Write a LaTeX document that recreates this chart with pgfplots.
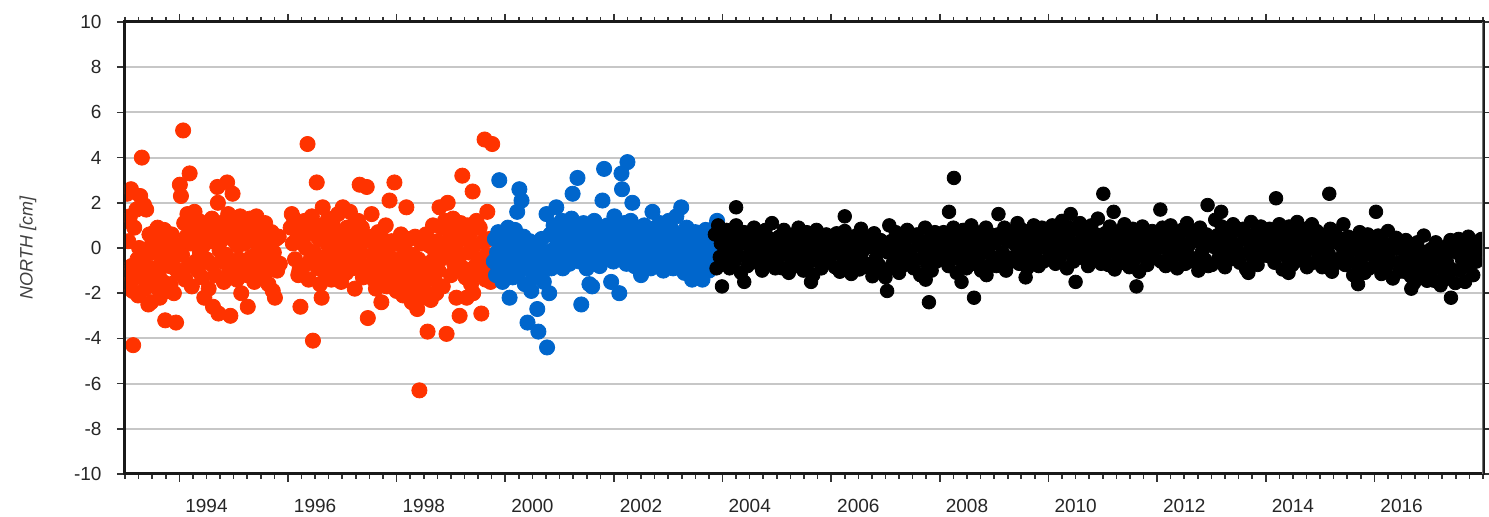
\documentclass[border=0pt]{standalone}
\usepackage{fontspec}
\setmainfont{Liberation Sans}
\usepackage{pgfplots}
\pgfplotsset{compat=1.18}
\definecolor{redpt}{RGB}{255,51,0}
\definecolor{bluept}{RGB}{0,102,204}
\begin{document}
\begin{tikzpicture}
\begin{axis}[
  scale only axis, width=679pt, height=226pt,
  xmin=1993, xmax=2018, ymin=-10, ymax=10,
  xtick={1994,1996,...,2016},
  minor xtick={1993,1993.25,...,2018},
  ytick={-10,-8,...,10},
  /pgf/number format/assume math mode=true,
  /pgf/number format/1000 sep={},
  tick align=outside,
  major tick length=4pt, minor tick length=2.5pt,
  every tick/.style={line width=0.8pt, black!80},
  ymajorgrids,
  grid style={line width=1pt, black!22},
  axis line style={line width=1.5pt, black!90},
  tick label style={font=\fontsize{9.5}{11}\selectfont, text=black!85},
  xticklabel style={xshift=13.58pt, yshift=-5.2pt},
  yticklabel style={xshift=-4.2pt},
  ylabel={NORTH [cm]},
  every axis y label/.style={at={(axis description cs:-0.0714,0.5)}, rotate=90, anchor=center, font=\itshape\fontsize{9}{11}\selectfont, text=black!75},
  clip marker paths=true,
]
\addplot[only marks, mark=*, mark size=3.8pt, color=redpt] table[row sep=\\] {
x y\\
1993.01 1.2\\ 1993.03 -1.1\\ 1993.04 2.4\\ 1993.06 0.3\\ 1993.07 -1.6\\ 1993.09 1.4\\ 1993.11 2.6\\ 1993.12 -0.8\\ 1993.14 -1.9\\ 1993.15 -4.3\\ 1993.17 0.9\\ 1993.19 -1.3\\ 1993.21 1.7\\ 1993.23 -0.5\\ 1993.24 -2.1\\
1993.26 0.0\\ 1993.28 2.3\\ 1993.29 -1.2\\ 1993.31 4.0\\ 1993.33 -0.7\\ 1993.35 1.9\\ 1993.37 -1.8\\ 1993.39 1.7\\ 1993.41 -0.3\\ 1993.43 -2.5\\ 1993.45 0.6\\ 1993.47 -1.4\\ 1993.48 -2.4\\ 1993.50 0.2\\
1993.52 -0.9\\ 1993.54 0.7\\ 1993.56 -1.7\\ 1993.58 -0.2\\ 1993.60 0.9\\ 1993.62 -1.2\\ 1993.64 -2.2\\ 1993.66 0.4\\ 1993.68 -0.6\\ 1993.70 -1.5\\ 1993.72 0.8\\ 1993.74 -3.2\\ 1993.76 -0.1\\
1993.78 -1.9\\ 1993.80 0.3\\ 1993.82 -0.8\\ 1993.84 -1.6\\ 1993.86 0.6\\ 1993.88 -0.4\\ 1993.90 -2.0\\ 1993.92 -0.9\\ 1993.94 -3.3\\ 1993.96 0.1\\ 1993.98 -1.1\\
1994.01 2.8\\ 1994.03 2.3\\ 1994.05 -0.3\\ 1994.07 5.2\\ 1994.09 1.1\\ 1994.11 -1.4\\ 1994.13 0.5\\ 1994.15 1.5\\ 1994.17 -0.8\\ 1994.19 3.3\\ 1994.21 0.2\\ 1994.23 -1.7\\
1994.26 0.9\\ 1994.28 1.6\\ 1994.30 -0.6\\ 1994.32 0.4\\ 1994.34 -1.0\\ 1994.36 1.2\\ 1994.38 -0.2\\ 1994.40 0.7\\ 1994.42 -1.3\\ 1994.44 0.1\\ 1994.46 -2.2\\ 1994.48 0.6\\
1994.50 -0.5\\ 1994.52 1.0\\ 1994.54 -1.8\\ 1994.56 0.3\\ 1994.58 -0.7\\ 1994.60 1.3\\ 1994.62 -2.6\\ 1994.64 0.5\\ 1994.66 -1.2\\ 1994.68 0.9\\ 1994.70 2.7\\ 1994.71 2.0\\ 1994.72 -2.9\\ 1994.74 -0.1\\
1994.76 1.1\\ 1994.78 -0.6\\ 1994.80 0.4\\ 1994.82 -1.5\\ 1994.84 0.8\\ 1994.86 -0.3\\ 1994.88 2.9\\ 1994.90 1.5\\ 1994.92 -1.0\\ 1994.94 -3.0\\ 1994.96 0.6\\ 1994.98 2.4\\ 1995.00 -0.8\\
1995.02 0.3\\ 1995.04 1.2\\ 1995.06 -1.4\\ 1995.08 0.1\\ 1995.10 -0.5\\ 1995.12 1.4\\ 1995.14 -2.0\\ 1995.16 0.7\\ 1995.18 -0.9\\ 1995.20 0.2\\ 1995.22 1.0\\ 1995.24 -1.2\\
1995.26 -2.6\\ 1995.28 0.5\\ 1995.30 1.3\\ 1995.32 -0.4\\ 1995.34 0.8\\ 1995.36 -0.9\\ 1995.38 -1.5\\ 1995.40 0.3\\ 1995.42 1.4\\ 1995.44 -0.2\\ 1995.46 -1.1\\ 1995.48 0.6\\
1995.50 0.9\\ 1995.52 -0.6\\ 1995.54 0.1\\ 1995.56 -1.3\\ 1995.58 1.1\\ 1995.60 -0.4\\ 1995.62 0.5\\ 1995.64 -1.6\\ 1995.66 0.2\\ 1995.68 -0.8\\ 1995.70 0.7\\ 1995.72 -1.9\\ 1995.74 -0.2\\ 1995.76 -2.2\\ 1995.78 0.4\\ 1995.80 -1.0\\ 1995.83 0.5\\ 1995.85 -0.7\\
1996.05 0.9\\ 1996.07 1.5\\ 1996.09 0.2\\ 1996.11 1.3\\ 1996.13 -0.5\\ 1996.15 1.0\\ 1996.17 0.4\\ 1996.19 -1.2\\ 1996.21 -1.0\\ 1996.23 -2.6\\ 1996.25 0.7\\
1996.27 0.3\\ 1996.29 -0.8\\ 1996.31 1.2\\ 1996.33 0.0\\ 1996.36 4.6\\ 1996.38 -1.4\\ 1996.40 0.8\\ 1996.42 -0.5\\ 1996.44 1.4\\ 1996.46 -4.1\\ 1996.48 -0.2\\
1996.50 0.6\\ 1996.53 2.9\\ 1996.55 -0.9\\ 1996.57 0.4\\ 1996.59 -1.6\\ 1996.61 1.0\\ 1996.62 -2.2\\ 1996.64 1.8\\ 1996.66 -0.4\\ 1996.68 0.7\\ 1996.70 -1.2\\ 1996.72 0.2\\ 1996.74 1.3\\
1996.76 -0.6\\ 1996.78 0.5\\ 1996.80 -1.4\\ 1996.82 1.1\\ 1996.84 -0.2\\ 1996.86 0.8\\ 1996.88 -1.0\\ 1996.90 0.3\\ 1996.92 1.5\\ 1996.94 -0.7\\ 1996.96 0.0\\ 1996.98 -1.5\\
1997.01 1.8\\ 1997.03 -0.4\\ 1997.05 0.6\\ 1997.07 -1.1\\ 1997.09 0.9\\ 1997.11 -0.3\\ 1997.14 1.6\\ 1997.16 0.2\\ 1997.18 -0.9\\ 1997.20 1.0\\ 1997.23 -1.8\\
1997.25 0.4\\ 1997.27 -0.7\\ 1997.29 1.2\\ 1997.32 2.8\\ 1997.34 -0.2\\ 1997.36 0.9\\ 1997.38 -1.3\\ 1997.40 0.3\\ 1997.42 -0.8\\ 1997.45 2.7\\ 1997.47 -3.1\\ 1997.49 0.5\\
1997.51 -0.9\\ 1997.54 1.5\\ 1997.56 -0.3\\ 1997.58 -1.4\\ 1997.60 0.2\\ 1997.62 -1.8\\ 1997.64 -0.6\\ 1997.66 0.7\\ 1997.68 -1.1\\ 1997.70 -0.2\\ 1997.72 -2.4\\ 1997.74 0.4\\
1997.76 -1.3\\ 1997.78 -0.5\\ 1997.80 1.0\\ 1997.82 -1.7\\ 1997.84 -0.2\\ 1997.87 2.1\\ 1997.89 -0.9\\ 1997.91 0.3\\ 1997.93 -1.5\\ 1997.96 2.9\\ 1997.98 -0.6\\
1998.00 -1.9\\ 1998.02 0.2\\ 1998.04 -0.8\\ 1998.06 -1.4\\ 1998.08 0.6\\ 1998.10 -0.4\\ 1998.12 -2.1\\ 1998.14 0.1\\ 1998.16 -1.0\\ 1998.18 1.8\\ 1998.20 -0.6\\ 1998.22 -1.6\\ 1998.24 0.4\\
1998.26 -1.2\\ 1998.28 -2.4\\ 1998.30 -0.3\\ 1998.32 -1.8\\ 1998.34 0.5\\ 1998.36 -1.0\\ 1998.38 -2.7\\ 1998.40 -0.5\\ 1998.42 -6.3\\ 1998.44 -1.5\\ 1998.46 0.2\\ 1998.48 -2.2\\
1998.50 -0.8\\ 1998.52 -1.9\\ 1998.54 0.6\\ 1998.57 -3.7\\ 1998.59 -1.1\\ 1998.61 0.1\\ 1998.63 -2.3\\ 1998.65 -0.6\\ 1998.67 1.0\\ 1998.69 -1.4\\ 1998.71 -0.2\\ 1998.73 -2.0\\
1998.75 0.3\\ 1998.77 -1.0\\ 1998.79 1.8\\ 1998.81 -0.5\\ 1998.83 0.9\\ 1998.85 -1.7\\ 1998.87 0.2\\ 1998.89 1.2\\ 1998.92 -3.8\\ 1998.94 2.0\\ 1998.96 -0.3\\ 1998.98 0.7\\
1999.00 -1.2\\ 1999.02 0.5\\ 1999.04 1.3\\ 1999.06 -0.7\\ 1999.08 0.0\\ 1999.10 -2.2\\ 1999.12 0.8\\ 1999.14 -0.5\\ 1999.16 -3.0\\ 1999.18 1.1\\ 1999.21 3.2\\ 1999.23 -0.9\\
1999.25 0.4\\ 1999.27 -1.3\\ 1999.29 -2.2\\ 1999.31 1.0\\ 1999.33 -0.2\\ 1999.35 0.6\\ 1999.37 -1.6\\ 1999.40 2.5\\ 1999.41 -2.0\\ 1999.43 0.1\\ 1999.45 -0.8\\ 1999.47 1.2\\ 1999.49 -1.1\\
1999.51 -0.5\\ 1999.53 0.9\\ 1999.56 -2.9\\ 1999.58 -0.9\\ 1999.60 0.3\\ 1999.62 4.8\\ 1999.64 -1.4\\ 1999.66 -0.3\\ 1999.67 1.6\\ 1999.69 -1.0\\ 1999.71 0.4\\ 1999.73 -1.5\\ 1999.74 -0.6\\ 1999.76 4.6\\ 1999.77 -1.2\\
};
\addplot[only marks, mark=*, mark size=3.8pt, color=bluept] table[row sep=\\] {
x y\\
1999.79 -0.6\\ 1999.81 0.4\\ 1999.83 -1.2\\ 1999.85 -0.2\\ 1999.87 0.7\\ 1999.89 3.0\\ 1999.91 -0.9\\ 1999.93 0.1\\ 1999.95 -1.5\\ 1999.97 -0.4\\ 1999.99 0.5\\
2000.01 -1.0\\ 2000.03 -0.3\\ 2000.05 0.9\\ 2000.08 -2.2\\ 2000.10 -0.7\\ 2000.12 0.2\\ 2000.14 -1.3\\ 2000.16 -0.1\\ 2000.18 0.8\\ 2000.20 -0.5\\ 2000.22 1.6\\ 2000.24 -1.1\\ 2000.26 2.6\\ 2000.28 0.0\\ 2000.30 2.1\\ 2000.32 -0.8\\ 2000.34 0.5\\ 2000.36 -1.6\\ 2000.38 -0.3\\ 2000.41 -3.3\\ 2000.43 -0.9\\ 2000.45 0.3\\ 2000.48 -1.9\\ 2000.50 -0.5\\
2000.52 -1.3\\ 2000.54 0.1\\ 2000.56 -0.8\\ 2000.59 -2.7\\ 2000.61 -3.7\\ 2000.63 -0.4\\ 2000.65 -1.2\\ 2000.67 0.4\\ 2000.69 -0.7\\ 2000.71 -1.5\\ 2000.73 -0.2\\ 2000.76 1.5\\ 2000.77 -4.4\\ 2000.79 -0.6\\ 2000.81 -2.0\\ 2000.83 0.6\\ 2000.85 -0.9\\ 2000.87 -0.1\\ 2000.89 1.0\\ 2000.91 -0.5\\
2000.94 1.8\\ 2000.96 0.3\\ 2000.98 -0.6\\ 2001.00 0.7\\ 2001.02 -0.2\\ 2001.04 1.2\\ 2001.06 -0.9\\ 2001.08 0.4\\ 2001.10 -0.4\\ 2001.12 1.0\\ 2001.14 -0.1\\ 2001.16 0.6\\ 2001.18 -0.7\\ 2001.20 0.2\\ 2001.22 1.3\\ 2001.24 2.4\\ 2001.26 -0.5\\ 2001.28 0.5\\ 2001.30 -0.3\\ 2001.33 3.1\\ 2001.35 0.8\\ 2001.37 -0.6\\ 2001.40 -2.5\\ 2001.42 0.1\\ 2001.44 1.1\\ 2001.46 -0.4\\ 2001.48 0.5\\
2001.50 -0.9\\ 2001.52 0.3\\ 2001.55 -1.6\\ 2001.57 0.9\\ 2001.60 -1.7\\ 2001.62 0.0\\ 2001.64 1.2\\ 2001.66 -0.5\\ 2001.68 0.4\\ 2001.70 -0.2\\ 2001.72 0.9\\ 2001.74 -0.8\\ 2001.76 0.6\\ 2001.79 2.1\\ 2001.82 3.5\\ 2001.84 0.2\\ 2001.86 -0.4\\ 2001.88 1.0\\ 2001.90 -0.1\\ 2001.92 0.5\\ 2001.95 -1.5\\ 2001.97 0.3\\ 2001.99 -0.6\\
2002.01 1.4\\ 2002.03 0.1\\ 2002.05 -0.3\\ 2002.07 0.8\\ 2002.10 -2.0\\ 2002.12 0.5\\ 2002.14 3.3\\ 2002.15 2.6\\ 2002.17 -0.4\\ 2002.19 1.1\\ 2002.21 0.2\\ 2002.23 -0.7\\ 2002.25 3.8\\ 2002.27 0.6\\ 2002.29 -0.2\\ 2002.31 1.2\\ 2002.34 2.0\\ 2002.36 0.4\\ 2002.38 -0.8\\ 2002.40 0.1\\ 2002.42 0.9\\ 2002.44 -0.5\\ 2002.46 0.3\\ 2002.48 -1.0\\ 2002.50 -1.2\\
2002.52 0.6\\ 2002.54 -0.3\\ 2002.56 1.0\\ 2002.58 0.2\\ 2002.60 -0.7\\ 2002.62 0.8\\ 2002.64 -0.1\\ 2002.66 0.4\\ 2002.68 -0.9\\ 2002.71 1.6\\ 2002.73 0.3\\ 2002.75 -0.5\\ 2002.77 0.9\\ 2002.79 0.0\\ 2002.81 -0.8\\ 2002.83 0.5\\ 2002.85 1.1\\ 2002.87 -0.3\\ 2002.89 0.2\\ 2002.91 -1.0\\ 2002.93 0.7\\ 2002.95 -0.2\\ 2002.97 0.4\\ 2002.99 -0.6\\
2003.01 1.2\\ 2003.03 0.1\\ 2003.05 -0.4\\ 2003.07 0.8\\ 2003.09 -0.9\\ 2003.11 0.3\\ 2003.13 -0.1\\ 2003.15 1.4\\ 2003.17 0.5\\ 2003.19 -0.7\\ 2003.21 0.2\\ 2003.24 1.8\\ 2003.26 -0.3\\ 2003.28 0.6\\ 2003.30 -1.1\\ 2003.32 0.0\\ 2003.34 0.9\\ 2003.36 -0.5\\ 2003.38 0.3\\ 2003.40 -0.8\\ 2003.42 0.4\\ 2003.44 -1.4\\ 2003.46 0.1\\ 2003.48 -0.4\\
2003.50 0.7\\ 2003.52 -0.9\\ 2003.54 0.2\\ 2003.56 -0.2\\ 2003.58 0.6\\ 2003.60 -0.6\\ 2003.63 -1.4\\ 2003.65 0.3\\ 2003.67 -0.3\\ 2003.69 0.8\\ 2003.71 -0.7\\ 2003.73 0.1\\ 2003.75 -1.0\\ 2003.77 0.4\\ 2003.79 -0.4\\ 2003.81 0.5\\ 2003.83 -0.8\\ 2003.86 0.9\\ 2003.88 -0.2\\ 2003.90 1.2\\
};
\addplot[only marks, mark=*, mark size=3.4pt, color=black] table[row sep=\\] {
x y\\
2003.86 0.6\\ 2003.89 -0.9\\ 2003.92 1.0\\ 2003.95 -0.4\\ 2003.97 0.2\\ 2003.99 -1.7\\
2004.01 0.3\\ 2004.04 -0.5\\ 2004.07 0.8\\ 2004.10 -0.2\\ 2004.13 -0.9\\ 2004.16 0.5\\ 2004.19 0.1\\ 2004.22 -0.6\\ 2004.25 1.0\\ 2004.28 -0.3\\ 2004.31 0.4\\ 2004.34 -1.1\\ 2004.37 0.2\\ 2004.40 0.7\\ 2004.43 -0.4\\ 2004.46 -0.8\\ 2004.49 0.6\\ 2004.52 0.0\\ 2004.55 -0.5\\ 2004.58 0.9\\ 2004.61 -0.2\\ 2004.64 0.3\\ 2004.67 -0.7\\ 2004.70 0.5\\ 2004.73 -1.0\\ 2004.76 0.1\\ 2004.79 0.8\\ 2004.82 -0.3\\ 2004.85 -0.6\\ 2004.88 0.4\\ 2004.91 1.1\\ 2004.94 -0.1\\ 2004.97 -0.9\\ 2004.25 1.8\\ 2004.40 -1.5\\
2005.01 -0.5\\ 2005.04 0.5\\ 2005.07 0.0\\ 2005.10 -0.9\\ 2005.13 0.8\\ 2005.16 -0.3\\ 2005.19 0.3\\ 2005.22 -1.1\\ 2005.25 0.2\\ 2005.28 -0.6\\ 2005.31 0.6\\ 2005.34 -0.1\\ 2005.37 -0.8\\ 2005.40 0.9\\ 2005.43 -0.4\\ 2005.46 0.4\\ 2005.49 -1.0\\ 2005.52 0.1\\ 2005.55 0.7\\ 2005.58 -0.7\\ 2005.61 -0.2\\ 2005.64 0.5\\ 2005.67 -1.2\\ 2005.70 0.2\\ 2005.73 0.8\\ 2005.76 -0.5\\ 2005.79 0.0\\ 2005.82 -0.9\\ 2005.85 0.4\\ 2005.88 -0.3\\ 2005.91 0.6\\ 2005.94 -0.6\\ 2005.97 0.1\\ 2005.63 -1.5\\
2006.01 0.35\\ 2006.04 -0.25\\ 2006.07 -0.85\\ 2006.10 0.65\\ 2006.13 0.05\\ 2006.16 -1.05\\ 2006.19 0.25\\ 2006.22 -0.45\\ 2006.25 0.75\\ 2006.28 -0.75\\ 2006.31 -0.05\\ 2006.34 0.45\\ 2006.37 -1.15\\ 2006.40 0.15\\ 2006.43 -0.55\\ 2006.46 0.55\\ 2006.49 -0.35\\ 2006.52 -0.95\\ 2006.55 0.85\\ 2006.58 -0.15\\ 2006.61 -0.65\\ 2006.64 0.25\\ 2006.67 -0.85\\ 2006.70 0.45\\ 2006.73 0.05\\ 2006.76 -1.25\\ 2006.79 0.65\\ 2006.82 -0.45\\ 2006.85 0.15\\ 2006.88 -0.75\\ 2006.91 0.35\\ 2006.94 -1.05\\ 2006.97 -0.05\\ 2006.25 1.4\\
2007.01 -1.0\\ 2007.04 -0.2\\ 2007.07 1.0\\ 2007.10 0.3\\ 2007.13 -0.7\\ 2007.16 -0.4\\ 2007.19 0.7\\ 2007.22 0.0\\ 2007.25 -1.1\\ 2007.28 0.4\\ 2007.31 -0.8\\ 2007.34 0.2\\ 2007.37 -0.3\\ 2007.40 0.8\\ 2007.43 -0.6\\ 2007.46 -0.1\\ 2007.49 0.5\\ 2007.52 -0.9\\ 2007.55 -0.5\\ 2007.58 0.6\\ 2007.61 0.1\\ 2007.64 -1.2\\ 2007.67 0.3\\ 2007.70 -0.4\\ 2007.73 0.9\\ 2007.76 -0.7\\ 2007.79 0.0\\ 2007.82 0.4\\ 2007.85 -1.0\\ 2007.88 -0.3\\ 2007.91 0.7\\ 2007.94 -0.6\\ 2007.97 0.2\\ 2007.00 -1.3\\ 2007.03 -1.9\\ 2007.74 -1.4\\ 2007.80 -2.4\\
2008.01 0.2\\ 2008.04 -0.5\\ 2008.07 0.7\\ 2008.10 -0.2\\ 2008.13 0.5\\ 2008.16 -0.8\\ 2008.19 0.1\\ 2008.22 -0.4\\ 2008.25 0.9\\ 2008.28 0.3\\ 2008.31 -1.1\\ 2008.34 0.6\\ 2008.37 -0.1\\ 2008.40 -0.6\\ 2008.43 0.8\\ 2008.46 0.2\\ 2008.49 -0.9\\ 2008.52 0.5\\ 2008.55 -0.3\\ 2008.58 1.0\\ 2008.61 -0.7\\ 2008.64 0.0\\ 2008.67 0.7\\ 2008.70 -0.5\\ 2008.73 0.3\\ 2008.76 -1.0\\ 2008.79 0.4\\ 2008.82 -0.2\\ 2008.85 0.9\\ 2008.88 -0.8\\ 2008.91 0.1\\ 2008.94 0.6\\ 2008.97 -0.4\\ 2008.17 1.6\\ 2008.26 3.1\\ 2008.40 -1.5\\ 2008.63 -2.2\\ 2008.86 -1.2\\
2009.01 0.2\\ 2009.04 -0.8\\ 2009.07 0.6\\ 2009.10 -0.5\\ 2009.13 0.4\\ 2009.16 -0.2\\ 2009.19 0.9\\ 2009.22 -1.0\\ 2009.25 0.3\\ 2009.28 0.7\\ 2009.31 -0.6\\ 2009.34 0.5\\ 2009.37 -0.4\\ 2009.40 0.1\\ 2009.43 1.1\\ 2009.46 -0.7\\ 2009.49 -0.1\\ 2009.52 0.8\\ 2009.55 -0.3\\ 2009.58 0.4\\ 2009.61 -0.9\\ 2009.64 0.7\\ 2009.67 0.2\\ 2009.70 -0.5\\ 2009.73 1.0\\ 2009.76 -0.2\\ 2009.79 0.5\\ 2009.82 -0.8\\ 2009.85 0.3\\ 2009.88 0.9\\ 2009.91 -0.6\\ 2009.94 0.0\\ 2009.97 0.6\\ 2009.08 1.5\\ 2009.58 -1.3\\
2010.01 0.5\\ 2010.04 -0.3\\ 2010.07 1.0\\ 2010.10 0.0\\ 2010.13 -0.7\\ 2010.16 0.7\\ 2010.19 0.3\\ 2010.22 -0.4\\ 2010.25 1.2\\ 2010.28 -0.1\\ 2010.31 0.6\\ 2010.34 -0.9\\ 2010.37 0.4\\ 2010.40 0.9\\ 2010.43 -0.2\\ 2010.46 -0.6\\ 2010.49 0.8\\ 2010.52 0.2\\ 2010.55 -0.3\\ 2010.58 1.1\\ 2010.61 0.0\\ 2010.64 0.5\\ 2010.67 -0.5\\ 2010.70 0.7\\ 2010.73 -0.8\\ 2010.76 0.3\\ 2010.79 1.0\\ 2010.82 -0.1\\ 2010.85 -0.4\\ 2010.88 0.6\\ 2010.91 1.3\\ 2010.94 0.1\\ 2010.97 -0.7\\ 2010.41 1.5\\ 2010.50 -1.5\\
2011.01 -0.35\\ 2011.04 0.65\\ 2011.07 0.15\\ 2011.10 -0.75\\ 2011.13 0.95\\ 2011.16 -0.15\\ 2011.19 0.45\\ 2011.22 -0.95\\ 2011.25 0.35\\ 2011.28 -0.45\\ 2011.31 0.75\\ 2011.34 0.05\\ 2011.37 -0.65\\ 2011.40 1.05\\ 2011.43 -0.25\\ 2011.46 0.55\\ 2011.49 -0.85\\ 2011.52 0.25\\ 2011.55 0.85\\ 2011.58 -0.55\\ 2011.61 -0.05\\ 2011.64 0.65\\ 2011.67 -1.05\\ 2011.70 0.35\\ 2011.73 0.95\\ 2011.76 -0.35\\ 2011.79 0.15\\ 2011.82 -0.75\\ 2011.85 0.55\\ 2011.88 -0.15\\ 2011.91 0.75\\ 2011.94 -0.45\\ 2011.97 0.25\\ 2011.01 2.4\\ 2011.20 1.6\\ 2011.62 -1.7\\
2012.01 0.6\\ 2012.04 0.0\\ 2012.07 -0.6\\ 2012.10 0.9\\ 2012.13 0.3\\ 2012.16 -0.8\\ 2012.19 0.5\\ 2012.22 -0.2\\ 2012.25 1.0\\ 2012.28 -0.5\\ 2012.31 0.2\\ 2012.34 0.7\\ 2012.37 -0.9\\ 2012.40 0.4\\ 2012.43 -0.3\\ 2012.46 0.8\\ 2012.49 -0.1\\ 2012.52 -0.7\\ 2012.55 1.1\\ 2012.58 0.1\\ 2012.61 -0.4\\ 2012.64 0.5\\ 2012.67 -0.6\\ 2012.70 0.7\\ 2012.73 0.3\\ 2012.76 -1.0\\ 2012.79 0.9\\ 2012.82 -0.2\\ 2012.85 0.4\\ 2012.88 -0.5\\ 2012.91 0.6\\ 2012.94 -0.8\\ 2012.97 0.2\\ 2012.06 1.7\\ 2012.93 1.9\\
2013.01 -0.75\\ 2013.04 0.05\\ 2013.07 1.25\\ 2013.10 0.55\\ 2013.13 -0.45\\ 2013.16 -0.15\\ 2013.19 0.95\\ 2013.22 0.25\\ 2013.25 -0.85\\ 2013.28 0.65\\ 2013.31 -0.55\\ 2013.34 0.45\\ 2013.37 -0.05\\ 2013.40 1.05\\ 2013.43 -0.35\\ 2013.46 0.15\\ 2013.49 0.75\\ 2013.52 -0.65\\ 2013.55 -0.25\\ 2013.58 0.85\\ 2013.61 0.35\\ 2013.64 -0.95\\ 2013.67 0.55\\ 2013.70 -0.15\\ 2013.73 1.15\\ 2013.76 -0.45\\ 2013.79 0.25\\ 2013.82 0.65\\ 2013.85 -0.75\\ 2013.88 -0.05\\ 2013.91 0.95\\ 2013.94 -0.35\\ 2013.97 0.45\\ 2013.18 1.6\\ 2013.68 -1.1\\
2014.01 0.35\\ 2014.04 -0.35\\ 2014.07 0.85\\ 2014.10 -0.05\\ 2014.13 0.65\\ 2014.16 -0.65\\ 2014.19 0.25\\ 2014.22 -0.25\\ 2014.25 1.05\\ 2014.28 0.45\\ 2014.31 -0.95\\ 2014.34 0.75\\ 2014.37 0.05\\ 2014.40 -0.45\\ 2014.43 0.95\\ 2014.46 0.35\\ 2014.49 -0.75\\ 2014.52 0.65\\ 2014.55 -0.15\\ 2014.58 1.15\\ 2014.61 -0.55\\ 2014.64 0.15\\ 2014.67 0.85\\ 2014.70 -0.35\\ 2014.73 0.45\\ 2014.76 -0.85\\ 2014.79 0.55\\ 2014.82 -0.05\\ 2014.85 1.05\\ 2014.88 -0.65\\ 2014.91 0.25\\ 2014.94 0.75\\ 2014.97 -0.25\\ 2014.19 2.2\\ 2014.42 -1.1\\
2015.01 0.15\\ 2015.04 -0.85\\ 2015.07 0.55\\ 2015.10 -0.55\\ 2015.13 0.35\\ 2015.16 -0.25\\ 2015.19 0.85\\ 2015.22 -1.05\\ 2015.25 0.25\\ 2015.28 0.65\\ 2015.31 -0.65\\ 2015.34 0.45\\ 2015.37 -0.45\\ 2015.40 0.05\\ 2015.43 1.05\\ 2015.46 -0.75\\ 2015.49 -0.4\\ 2015.52 0.5\\ 2015.55 -0.6\\ 2015.58 0.1\\ 2015.61 -1.2\\ 2015.64 0.4\\ 2015.67 -0.1\\ 2015.70 -0.8\\ 2015.73 0.7\\ 2015.76 -0.5\\ 2015.79 0.2\\ 2015.82 -1.1\\ 2015.85 0.0\\ 2015.88 0.6\\ 2015.91 -0.9\\ 2015.94 -0.3\\ 2015.97 0.3\\ 2015.17 2.4\\ 2015.70 -1.6\\
2016.01 0.05\\ 2016.04 -0.75\\ 2016.07 0.55\\ 2016.10 -0.45\\ 2016.13 -1.15\\ 2016.16 0.25\\ 2016.19 -0.15\\ 2016.22 -0.85\\ 2016.25 0.75\\ 2016.28 -0.55\\ 2016.31 0.15\\ 2016.34 -1.35\\ 2016.37 -0.05\\ 2016.40 0.45\\ 2016.43 -0.65\\ 2016.46 -1.05\\ 2016.49 0.05\\ 2016.52 -0.55\\ 2016.55 -1.05\\ 2016.58 0.35\\ 2016.61 -0.75\\ 2016.64 -0.25\\ 2016.67 -1.25\\ 2016.70 -0.05\\ 2016.73 -1.55\\ 2016.76 -0.45\\ 2016.79 0.25\\ 2016.82 -0.85\\ 2016.85 -1.15\\ 2016.88 -0.15\\ 2016.91 0.55\\ 2016.94 -0.65\\ 2016.97 -1.45\\ 2016.03 1.6\\ 2016.68 -1.8\\
2017.01 -1.05\\ 2017.04 -0.05\\ 2017.07 -0.55\\ 2017.10 -1.45\\ 2017.13 0.25\\ 2017.16 -0.85\\ 2017.19 -0.25\\ 2017.22 -1.65\\ 2017.25 -0.35\\ 2017.28 -1.15\\ 2017.31 0.05\\ 2017.34 -0.65\\ 2017.37 -1.35\\ 2017.40 0.35\\ 2017.43 -0.95\\ 2017.46 -0.15\\ 2017.49 -1.55\\ 2017.52 -0.2\\ 2017.55 0.4\\ 2017.58 -1.0\\ 2017.61 -0.5\\ 2017.64 0.2\\ 2017.67 -1.5\\ 2017.70 -0.1\\ 2017.73 0.5\\ 2017.76 -0.8\\ 2017.79 -0.3\\ 2017.82 -1.2\\ 2017.85 0.1\\ 2017.88 -0.6\\ 2017.91 0.3\\ 2017.94 -0.1\\ 2017.97 0.4\\ 2017.41 -2.2\\
};
\coordinate (SW) at (rel axis cs:0,0);
\coordinate (NE) at (rel axis cs:1,1);
\draw[line width=1.5pt, black!90] (rel axis cs:0,1) -- (rel axis cs:0,0) -- (rel axis cs:1,0);
\draw[line width=1.5pt, black!90] (rel axis cs:0,1) -- (rel axis cs:1,1);
\draw[line width=1.5pt, black!55] (rel axis cs:1,0) -- (rel axis cs:1,1);
\end{axis}
\pgfresetboundingbox
\path[use as bounding box] ([shift={(-62.5pt,-21.5pt)}]SW) rectangle ([shift={(3pt,11pt)}]NE);
\end{tikzpicture}
\end{document}
